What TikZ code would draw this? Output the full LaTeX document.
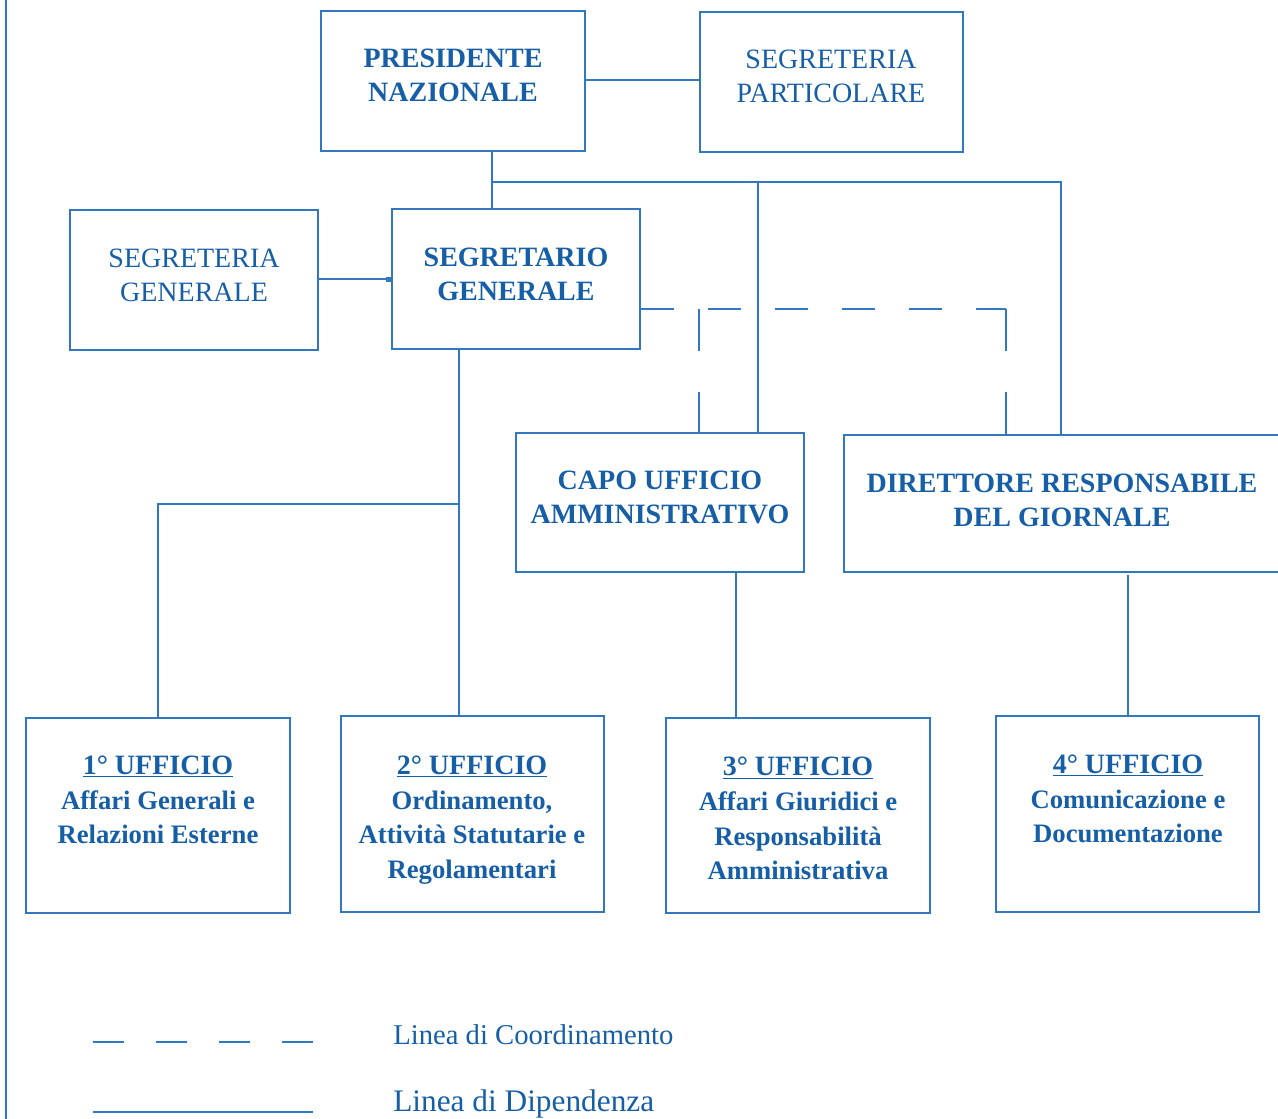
\documentclass[tikz,border=0pt]{standalone}
\usepackage{fontspec}
\setmainfont{Liberation Serif}
\usetikzlibrary{arrows.meta}
\definecolor{txtblue}{RGB}{22,94,166}
\definecolor{lnblue}{RGB}{50,120,190}
\newcommand{\smallerb}{\fontsize{20}{26}\selectfont}
\begin{document}
\begin{tikzpicture}[x=0.75pt,y=-0.75pt,
  box/.style={draw=lnblue, line width=1.1pt, rectangle, inner sep=0pt},
  conn/.style={draw=lnblue, line width=1.1pt},
  coordh/.style={conn, dash pattern=on 24.75pt off 25.5pt},
  coordv/.style={conn, dash pattern=on 31.5pt off 31pt},
  legdash/.style={conn, dash pattern=on 23.25pt off 24pt},
  lbl/.style={text=txtblue, align=center, font=\fontsize{21}{26}\selectfont, inner sep=0pt},
  lblb/.style={lbl, font=\fontsize{21}{26}\selectfont\bfseries},
]
\useasboundingbox (0,0) rectangle (1278,1118);

% left margin rule
\draw[conn] (6,-5) -- (6,1125);

% boxes
\node[box, minimum width=198pt, minimum height=105pt] (pn) at (453,81) {};
\node[box, minimum width=197.25pt, minimum height=105pt] (sp) at (831.5,82) {};
\node[box, minimum width=186pt, minimum height=105pt] (sg) at (194,280) {};
\node[box, minimum width=186pt, minimum height=105pt] (sgen) at (516,279) {};
\node[box, minimum width=216pt, minimum height=104.25pt] (capo) at (660,502.5) {};
\node[box, minimum width=330pt, minimum height=102.75pt] (dir) at (1064,503.5) {};
\node[box, minimum width=198pt, minimum height=146.25pt] (u1) at (158,815.5) {};
\node[box, minimum width=197.25pt, minimum height=147pt] (u2) at (472.5,814) {};
\node[box, minimum width=198pt, minimum height=146.25pt] (u3) at (798,815.5) {};
\node[box, minimum width=197.25pt, minimum height=147pt] (u4) at (1127.5,814) {};

% texts
\node[lblb] (pnt) at (453,75.5) {PRESIDENTE\\NAZIONALE};
\node[lbl] (spt) at (831,76.5) {SEGRETERIA\\PARTICOLARE};
\node[lbl] (sgt) at (194,275.5) {SEGRETERIA\\GENERALE};
\node[lblb] (sgent) at (516,274.5) {SEGRETARIO\\GENERALE};
\node[lblb] (capot) at (660,497.5) {CAPO UFFICIO\\AMMINISTRATIVO};
\node[lblb] (dirt) at (1062,500.5) {DIRETTORE RESPONSABILE\\DEL GIORNALE};
\node[lblb] (u1t) at (158,800) {\underline{1° UFFICIO}\\\smallerb Affari Generali e\\\smallerb Relazioni Esterne};
\node[lblb] (u2t) at (472,820) {\underline{2° UFFICIO}\\\smallerb Ordinamento,\\\smallerb Attività Statutarie e\\\smallerb Regolamentari};
\node[lblb] (u3t) at (798,818.5) {\underline{3° UFFICIO}\\\smallerb Affari Giuridici e\\\smallerb Responsabilità\\\smallerb Amministrativa};
\node[lblb] (u4t) at (1128,799) {\underline{4° UFFICIO}\\\smallerb Comunicazione e\\\smallerb Documentazione};

% solid connectors (dipendenza)
\coordinate (h1) at (640,80);
\draw[conn] (pn.east |- h1) -- (sp.west |- h1);
\coordinate (h2) at (350,279);
\draw[conn, -{Square[length=3.75pt,width=3.75pt]}] (sg.east |- h2) -- (sgen.west |- h2);
\coordinate (j1) at (492,182);
\coordinate (j2) at (1061,182);
\coordinate (j3) at (758,182);
\draw[conn] (pn.south -| j1) -- (sgen.north -| j1);
\draw[conn] (j1) -- (j2) -- (j2 |- dir.north);
\draw[conn] (j3) -- (j3 |- capo.north);
\coordinate (j4) at (459,504);
\coordinate (j5) at (158,504);
\draw[conn] (sgen.south -| j4) -- (u2.north -| j4);
\draw[conn] (j4) -- (j5) -- (u1.north);
\coordinate (j6) at (736,600);
\draw[conn] (capo.south -| j6) -- (u3.north -| j6);
\coordinate (j7) at (1128,575);
\draw[conn] (j7) -- (u4.north -| j7);

% dashed connectors (coordinamento)
\coordinate (d1) at (1006,309);
\coordinate (d2) at (699,309);
\draw[coordh] (sgen.east |- d1) -- (d1);
\draw[coordv] (d1) -- (d1 |- dir.north);
\draw[coordv] (d2) -- (d2 |- capo.north);

% legend
\coordinate (l1a) at (93,1042);
\coordinate (l1b) at (313,1042);
\coordinate (l2a) at (93,1112);
\coordinate (l2b) at (313,1112);
\draw[legdash] (l1a) -- (l1b);
\draw[conn] (l2a) -- (l2b);
\node[lbl, anchor=base west, font=\fontsize{21.5}{26}\selectfont] (leg1) at (393,1044) {Linea di Coordinamento};
\node[lbl, anchor=base west, font=\fontsize{23.5}{28}\selectfont] (leg2) at (393,1111) {Linea di Dipendenza};
\end{tikzpicture}
\end{document}
